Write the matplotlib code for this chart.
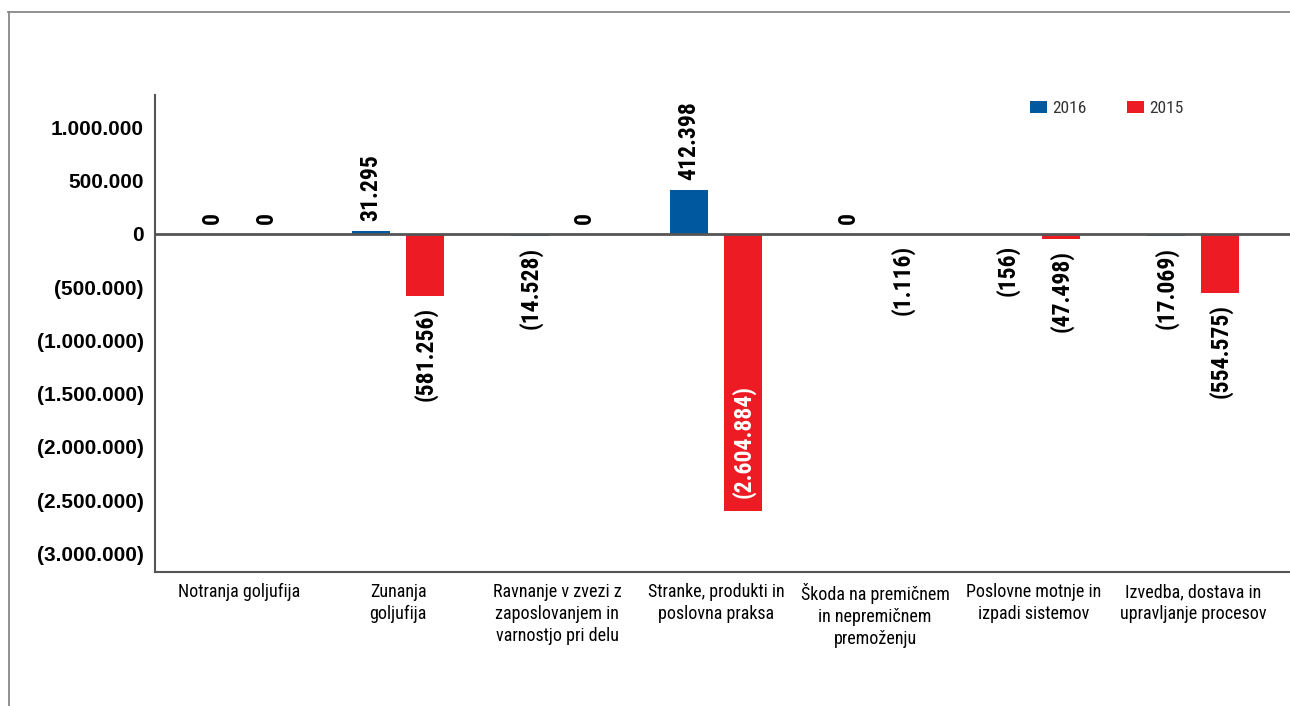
import numpy as np
import matplotlib.pyplot as plt
from matplotlib.lines import Line2D
from matplotlib import font_manager
from matplotlib.font_manager import FontProperties

# Kategorije dogodkov in izgube po letih (EUR)
categories = [
    "Notranja goljufija",
    "Zunanja\ngoljufija",
    "Ravnanje v zvezi z\nzaposlovanjem in\nvarnostjo pri delu",
    "Stranke, produkti in\nposlovna praksa",
    "Škoda na premičnem\nin nepremičnem\npremoženju",
    "Poslovne motnje in\nizpadi sistemov",
    "Izvedba, dostava in\nupravljanje procesov",
]
loss_2016 = [0, 31295, -14528, 412398, 0, -156, -17069]
loss_2015 = [0, -581256, 0, -2604884, -1116, -47498, -554575]
yticks = [1000000, 500000, 0, -500000, -1000000, -1500000, -2000000, -2500000, -3000000]

BLUE = "#00589F"
RED = "#ED1C24"

plt.rcParams["font.family"] = ["Liberation Sans", "DejaVu Sans"]


def condensed_font(bold):
    """Find an installed condensed/narrow face, preferring Helvetica-like ones."""
    order = ["Liberation Sans Narrow", "Roboto Condensed", "Noto Sans", "Open Sans",
             "DejaVu Sans"]
    found = []
    for f in font_manager.fontManager.ttflist:
        name = f.name.lower()
        narrowish = f.stretch not in ("normal", 500, "medium") or "narrow" in name or "condensed" in name
        if not narrowish or f.style != "normal":
            continue
        w = f.weight if isinstance(f.weight, int) else {"bold": 700, "normal": 400, "regular": 400}.get(f.weight, 400)
        if bold and w != 700:
            continue
        if not bold and w != 400:
            continue
        if "extra" in str(f.stretch) or "ultra" in str(f.stretch) or "semi" in str(f.stretch):
            continue
        rank = order.index(f.name) if f.name in order else len(order)
        found.append((rank, f.fname))
    if found:
        found.sort()
        return FontProperties(fname=found[0][1])
    return FontProperties(family="Liberation Sans", weight="bold" if bold else "normal")


nar = condensed_font(False)
nar_b = condensed_font(True)


def fmt(v):
    s = f"{abs(int(v)):,}".replace(",", ".")
    return f"({s})" if v < 0 else s


fig = plt.figure(figsize=(12.9, 7.06), dpi=100)
ax = fig.add_axes([155 / 1290, 1 - 572 / 706, 1 - 155 / 1290, (572 - 95) / 706])

x = np.arange(len(categories))
w = 0.24
off = 0.17
b16 = ax.bar(x - off, loss_2016, w, color=BLUE, label="2016", zorder=2)
b15 = ax.bar(x + off, loss_2015, w, color=RED, label="2015", zorder=2)

ax.axhline(0, color="#555555", lw=2, zorder=3)

ax.set_xlim(-0.53, 6.61)
ax.set_ylim(-3174000, 1305000)
ax.set_yticks(yticks)
ax.set_yticklabels([fmt(t) for t in yticks], fontsize=15, fontweight="bold")
ax.tick_params(axis="y", length=0, pad=8)
ax.set_xticks(x)
ax.set_xticklabels(categories, linespacing=1.28)
for lab in ax.get_xticklabels():
    lab.set_fontproperties(nar)
    lab.set_fontsize(13)
ax.tick_params(axis="x", length=0, pad=8)

for side in ("top", "right"):
    ax.spines[side].set_visible(False)
for side in ("left", "bottom"):
    ax.spines[side].set_color("#555555")
    ax.spines[side].set_linewidth(1.5)

# Vrednosti nad / pod stolpci
lab_font = nar_b.copy()
lab_font.set_size(17)
for bars, vals in ((b16, loss_2016), (b15, loss_2015)):
    for bar, v in zip(bars, vals):
        cx = bar.get_x() + bar.get_width() / 2
        if v < -1500000:
            ax.annotate(fmt(v), (cx, v), xytext=(0, 10), textcoords="offset points",
                        rotation=90, ha="center", va="bottom", color="white",
                        fontproperties=lab_font, zorder=4)
        elif v < 0:
            ax.annotate(fmt(v), (cx, v), xytext=(0, -8), textcoords="offset points",
                        rotation=90, ha="center", va="top", color="black",
                        fontproperties=lab_font, zorder=4)
        else:
            ax.annotate(fmt(v), (cx, v), xytext=(0, 7), textcoords="offset points",
                        rotation=90, ha="center", va="bottom", color="black",
                        fontproperties=lab_font, zorder=4)

leg_font = nar.copy()
leg_font.set_size(12.5)
leg = ax.legend(loc="upper left", bbox_to_anchor=(1014 / 1290, 1 - 85 / 706),
                bbox_transform=fig.transFigure, ncol=2, frameon=False, prop=leg_font,
                handlelength=1.0, handleheight=0.75, handletextpad=0.3,
                columnspacing=2.3)
for t in leg.get_texts():
    t.set_color("#333333")

# Okvir ob levem in zgornjem robu
fig.add_artist(Line2D([9 / 1290, 9 / 1290], [0, 1 - 12 / 706], transform=fig.transFigure,
                      color="#888888", lw=1.3))
fig.add_artist(Line2D([8 / 1290, 1], [1 - 12 / 706, 1 - 12 / 706], transform=fig.transFigure,
                      color="#888888", lw=1.3))

fig.savefig("out.png", dpi=100)
